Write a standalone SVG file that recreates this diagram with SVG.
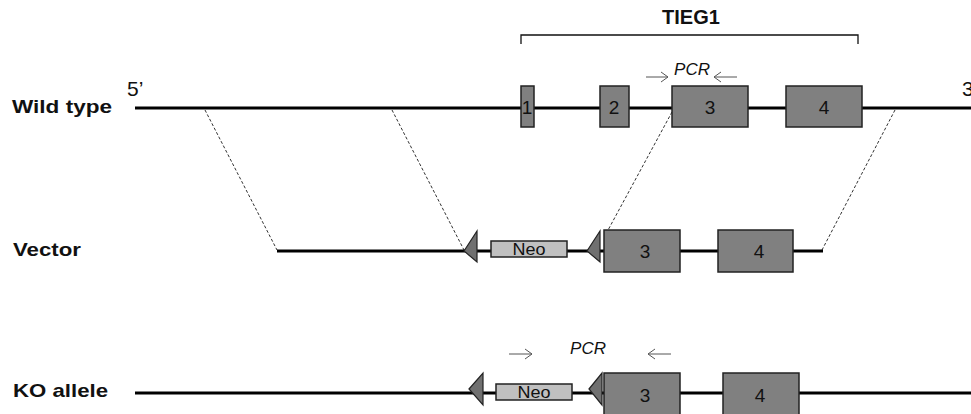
<svg xmlns="http://www.w3.org/2000/svg" width="971" height="414" viewBox="0 0 971 414">
<style>
.lbl{font-family:"Liberation Sans",Arial,sans-serif;font-size:19px;font-weight:bold;fill:#111}
.num{font-family:"Liberation Sans",Arial,sans-serif;font-size:19px;fill:#111;text-anchor:middle}
.neot{font-family:"Liberation Sans",Arial,sans-serif;font-size:16px;fill:#111;text-anchor:middle}
.pcr{font-family:"Liberation Sans",Arial,sans-serif;font-size:17px;font-style:italic;fill:#111;text-anchor:middle}
.end{font-family:"Liberation Sans",Arial,sans-serif;font-size:21px;fill:#111}
.dna{stroke:#000;stroke-width:3;fill:none}
.exon{fill:#808080;stroke:#222;stroke-width:1.5}
.neo{fill:#c0c0c0;stroke:#222;stroke-width:1.5}
.lox{fill:#707070;stroke:#222;stroke-width:1.2}
.dash{stroke:#333;stroke-width:1;stroke-dasharray:3,2;fill:none}
.arr{stroke:#555;stroke-width:1;fill:none}
</style>
<rect width="971" height="414" fill="#fff"/>
<g id="connectors">
<line class="dash" x1="205" y1="110" x2="277" y2="250"/>
<line class="dash" x1="392" y1="110" x2="464" y2="250"/>
<line class="dash" x1="672" y1="112" x2="607" y2="232"/>
<line class="dash" x1="895" y1="110" x2="822" y2="250"/>
</g>
<g id="labels">
<text class="lbl" x="12" y="113" textLength="100" lengthAdjust="spacingAndGlyphs">Wild type</text>
<text class="lbl" x="13" y="256" textLength="68" lengthAdjust="spacingAndGlyphs">Vector</text>
<text class="lbl" x="13" y="397" textLength="95" lengthAdjust="spacingAndGlyphs">KO allele</text>
<text class="end" x="127" y="96">5’</text>
<text class="end" x="962" y="96">3’</text>
</g>
<g id="tieg1">
<path d="M521,44 V35 H858 V44" fill="none" stroke="#111" stroke-width="1.3"/>
<text x="691" y="24" class="lbl" text-anchor="middle" style="font-size:20px">TIEG1</text>
</g>
<g id="wildtype">
<line class="dna" x1="135" y1="108" x2="971" y2="108"/>
<rect class="exon" x="521" y="86" width="13" height="41"/>
<text class="num" x="527" y="114">1</text>
<rect class="exon" x="600" y="86" width="29" height="41"/>
<text class="num" x="614" y="114">2</text>
<rect class="exon" x="672" y="86" width="76" height="41"/>
<text class="num" x="710" y="114">3</text>
<rect class="exon" x="786" y="86" width="76" height="41"/>
<text class="num" x="824" y="114">4</text>
<g id="pcr-wt">
<path class="arr" d="M646,77 H668 M661,72 L668,77 L661,82"/>
<path class="arr" d="M737,77 H714 M721,72 L714,77 L721,82"/>
<text class="pcr" x="692" y="75">PCR</text>
</g>
</g>
<g id="vector">
<line class="dna" x1="277" y1="251" x2="823" y2="251"/>
<polygon class="lox" points="464,251 477,231 477,262"/>
<rect class="neo" x="491" y="241" width="76" height="16"/>
<text class="neot" x="529" y="255" textLength="33" lengthAdjust="spacingAndGlyphs">Neo</text>
<polygon class="lox" points="587,251 600,231 600,262"/>
<rect class="exon" x="604" y="230" width="76" height="42"/>
<text class="num" x="645" y="258">3</text>
<rect class="exon" x="718" y="230" width="75" height="42"/>
<text class="num" x="759" y="258">4</text>
</g>
<g id="ko">
<line class="dna" x1="135" y1="393" x2="971" y2="393"/>
<polygon class="lox" points="469,389 483,373 483,405"/>
<rect class="neo" x="496" y="384" width="76" height="16"/>
<text class="neot" x="534" y="398" textLength="33" lengthAdjust="spacingAndGlyphs">Neo</text>
<polygon class="lox" points="589,389 602,373 602,405"/>
<rect class="exon" x="604" y="373" width="76" height="50"/>
<text class="num" x="645" y="402">3</text>
<rect class="exon" x="723" y="373" width="76" height="50"/>
<text class="num" x="760" y="402">4</text>
<g id="pcr-ko">
<path class="arr" d="M509,354 H532 M525,349 L532,354 L525,359"/>
<path class="arr" d="M671,354 H648 M655,349 L648,354 L655,359"/>
<text class="pcr" x="588" y="354">PCR</text>
</g>
</g>
</svg>
